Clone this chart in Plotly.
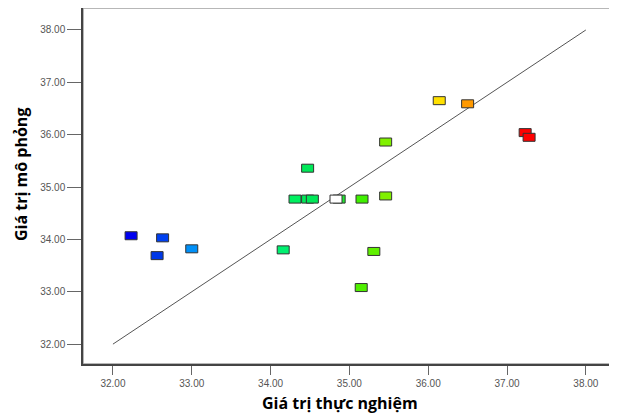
import plotly.graph_objects as go

# Data: actual (experimental) vs predicted (simulated)
actual = [32.23, 32.63, 32.56, 33.00, 34.16, 34.47, 34.31, 34.47, 34.53,
          34.87, 34.83, 35.16, 35.46, 35.46, 35.31, 35.15, 36.14, 36.50,
          37.23, 37.28]
predicted = [34.07, 34.03, 33.69, 33.82, 33.80, 35.36, 34.77, 34.77, 34.77,
             34.77, 34.77, 34.77, 34.83, 35.86, 33.77, 33.08, 36.65, 36.59,
             36.04, 35.95]
colors = ["#0000f0", "#0040f0", "#0038e8", "#0090f8", "#00f070", "#00e858",
          "#00f060", "#00e858", "#00e858", "#20e830", "#ffffff", "#40f000",
          "#80f000", "#80f000", "#60f000", "#50f000", "#ffe000", "#ff9900",
          "#ff0000", "#ff0000"]
ref_line = [32.0, 38.0]
tick_vals = [32, 33, 34, 35, 36, 37, 38]
tick_text = ["32.00", "33.00", "34.00", "35.00", "36.00", "37.00", "38.00"]
x_title = "Giá trị thực nghiệm"
y_title = "Giá trị mô phỏng"

fig = go.Figure()
fig.add_trace(go.Scatter(x=ref_line, y=ref_line, mode="lines",
                         line=dict(color="#555555", width=1),
                         hoverinfo="skip", showlegend=False))
# invisible points for hover
fig.add_trace(go.Scatter(x=actual, y=predicted, mode="markers",
                         marker=dict(size=10, opacity=0), showlegend=False))

shapes = []
for xv, yv, c in zip(actual, predicted, colors):
    shapes.append(dict(type="rect", xref="x", yref="y",
                       xsizemode="pixel", ysizemode="pixel",
                       xanchor=xv, yanchor=yv, x0=-6, x1=6, y0=-4, y1=4,
                       fillcolor=c, line=dict(color="#333333", width=1)))
# gray frame
shapes.append(dict(type="rect", xref="paper", yref="paper", x0=0, x1=1, y0=0, y1=1,
                   line=dict(color="#a0a0a0", width=1.5), layer="below"))

title_font = dict(family="Open Sans", size=16, color="black")
annotations = [
    dict(text="<b>" + x_title + "</b>", xref="paper", yref="paper",
         x=0.483, y=-0.11, xanchor="center", yanchor="middle",
         showarrow=False, font=title_font),
    dict(text="<b>" + y_title + "</b>", xref="paper", yref="paper",
         x=-0.1165, y=0.531, xanchor="center", yanchor="middle",
         textangle=-90, showarrow=False, font=title_font),
]

fig.update_layout(
    width=609, height=406,
    margin=dict(l=75, r=2, t=0, b=50),
    plot_bgcolor="white", paper_bgcolor="white",
    shapes=shapes,
    annotations=annotations,
    showlegend=False,
    xaxis=dict(range=[31.62, 38.37], tickvals=tick_vals, ticktext=tick_text,
               showgrid=False, zeroline=False, showline=True, automargin=False,
               linecolor="#444444", linewidth=1.5,
               ticks="outside", ticklen=9, tickcolor="#666666",
               tickfont=dict(family="Arial, Liberation Sans", size=10, color="#555555")),
    yaxis=dict(range=[31.62, 38.42], tickvals=tick_vals, ticktext=tick_text,
               showgrid=False, zeroline=False, showline=True, automargin=False,
               linecolor="#444444", linewidth=1.5,
               ticks="outside", ticklen=14, tickcolor="#666666",
               tickfont=dict(family="Arial, Liberation Sans", size=10, color="#555555")),
)

fig.write_html("out.html")
